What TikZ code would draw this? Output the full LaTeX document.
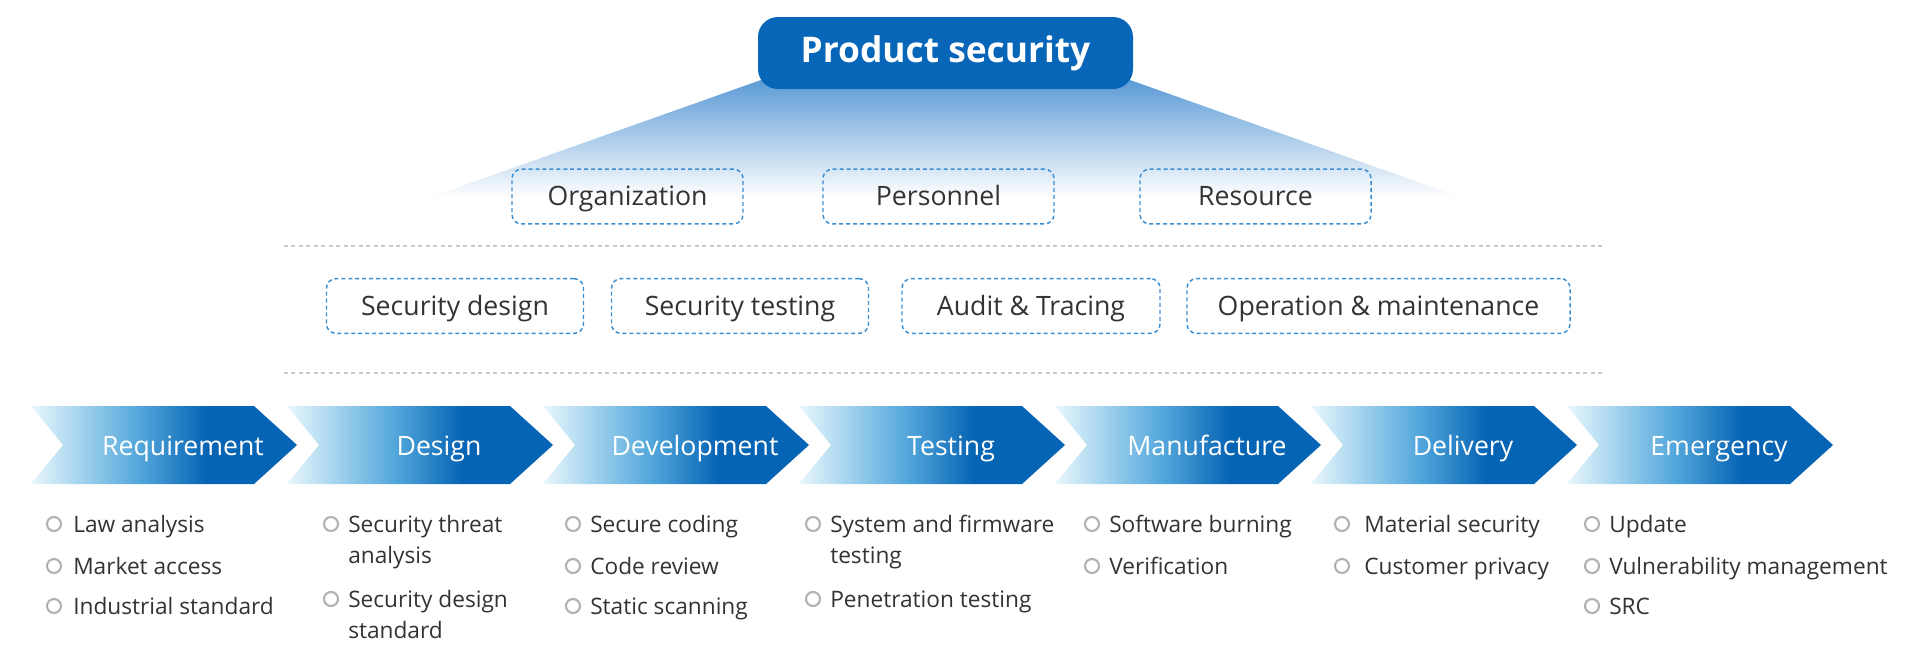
\documentclass[tikz,border=0pt]{standalone}
\usepackage{fontspec}
\setmainfont{Open Sans}
\definecolor{pblue}{RGB}{8,102,184}
\definecolor{chevlight}{RGB}{232,247,253}
\definecolor{chevmid}{RGB}{84,168,220}
\definecolor{chevdark}{RGB}{6,100,180}
\definecolor{dashblue}{RGB}{58,142,210}
\definecolor{txt}{RGB}{51,51,51}
\definecolor{ringgray}{RGB}{178,178,178}
\definecolor{dotgray}{RGB}{200,200,200}
\definecolor{trapTop}{RGB}{92,155,214}
\definecolor{trapMid}{RGB}{178,211,237}
\pgfdeclarehorizontalshading{chevshade}{100bp}{color(0bp)=(chevlight); color(25bp)=(chevlight); color(45bp)=(chevmid); color(58bp)=(chevdark); color(100bp)=(chevdark)}
\tikzset{
  title/.style={fill=pblue, text=white, rounded corners=15pt, minimum width=281.25pt, minimum height=54pt, font=\fontsize{26.5}{30}\selectfont\bfseries, inner sep=0pt},
  dbox/.style={draw=dashblue, line width=1.1pt, dash pattern=on 3pt off 2.2pt, rounded corners=7pt, minimum height=41pt, text=txt, font=\fontsize{20}{24}\selectfont, inner sep=0pt, text height=14pt, text depth=0pt},
  chev/.style={shading=chevshade},
  chevlabel/.style={anchor=base, text=white, font=\fontsize{20}{24}\selectfont, inner sep=0pt},
  ring/.style={circle, draw=ringgray, line width=1.6pt, minimum size=10.5pt, inner sep=0pt},
  item/.style={anchor=base west, text=txt, font=\fontsize{17}{22}\selectfont, inner sep=0pt},
  dotline/.style={draw=dotgray, line width=2.2pt, dash pattern=on 3pt off 2.6pt}
}
\begin{document}
\begin{tikzpicture}[x=0.75pt, y=-0.75pt]
\useasboundingbox (0,0) rectangle (1920,662);
% trapezoid
\shade[top color=trapTop, middle color=trapMid, bottom color=white] (761,80) -- (1130,80) -- (1463,198) -- (428,198) -- cycle;
\node[title] (ps) at (945.5,53) {Product security};
% first row boxes
\node[dbox, minimum width=173.25pt] (org) at (627.5,196.5) {Organization};
\node[dbox, minimum width=173.25pt] (per) at (938.5,196.5) {Personnel};
\node[dbox, minimum width=173.25pt] (res) at (1255.5,196.5) {Resource};
% dotted lines
\coordinate (d1a) at (284,246); \coordinate (d1b) at (1604,246);
\coordinate (d2a) at (284,373); \coordinate (d2b) at (1604,373);
\draw[dotline] (d1a) -- (d1b);
\draw[dotline] (d2a) -- (d2b);
% second row boxes
\node[dbox, minimum width=192.75pt] (sd) at (455,306) {Security design};
\node[dbox, minimum width=192.75pt] (st) at (740,306) {Security testing};
\node[dbox, minimum width=193.5pt] (at) at (1031,306) {Audit \& Tracing};
\node[dbox, minimum width=287.25pt] (om) at (1378.5,306) {Operation \& maintenance};
% chevrons
\foreach \i/\lab/\nm in {0/Requirement/c1, 1/Design/c2, 2/Development/c3, 3/Testing/c4, 4/Manufacture/c5, 5/Delivery/c6, 6/Emergency/c7}{
  \pgfmathsetmacro{\L}{31+256*\i}
  \shade[chev] (\L,406) -- ({\L+223},406) -- ({\L+266},445) -- ({\L+223},484) -- (\L,484) -- ({\L+32},445) -- cycle;
  \node[chevlabel] (\nm) at ({\L+152},455) {\lab};
}
% bullet items
\foreach \cx/\tx/\y/\lab/\nm in {
  54/73/524/Law analysis/i11, 54/73/566/Market access/i12, 54/73/606/Industrial standard/i13,
  331/348/524/Security threat/i21, 331/348/599/Security design/i22,
  573/590/524/Secure coding/i31, 573/590/566/Code review/i32, 573/590/606/Static scanning/i33,
  813/830/524/System and firmware/i41, 813/830/599/Penetration testing/i42,
  1092/1109/524/Software burning/i51, 1092/1109/566/Verification/i52,
  1342/1364/524/Material security/i61, 1342/1364/566/Customer privacy/i62,
  1592/1609/524/Update/i71, 1592/1609/566/Vulnerability management/i72, 1592/1609/606/SRC/i73}{
  \node[ring] (r\nm) at (\cx,\y) {};
  \node[item] (\nm) at (\tx,{\y+8}) {\lab};
}
\node[item] (i21b) at (348,563) {analysis};
\node[item] (i22b) at (348,638) {standard};
\node[item] (i41b) at (830,563) {testing};
\end{tikzpicture}
\end{document}
